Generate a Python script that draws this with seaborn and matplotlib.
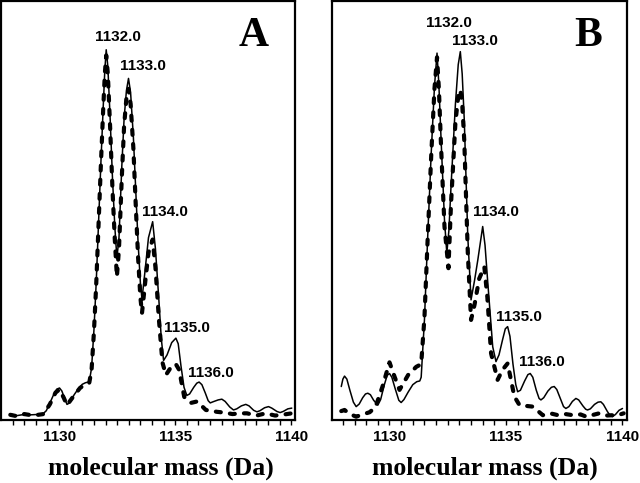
import seaborn as sns
import matplotlib.pyplot as plt
from matplotlib.ticker import MultipleLocator

# panel A - measured (solid) and simulated (dotted) isotope envelope
mass_a_meas = [1127.90, 1128.20, 1128.50, 1128.80, 1129.10, 1129.33, 1129.45, 1129.60, 1129.75, 1129.90,
               1130.02, 1130.12, 1130.24, 1130.34, 1130.46, 1130.65, 1130.85, 1131.00, 1131.13, 1131.30,
               1131.40, 1131.50, 1131.60, 1131.70, 1131.80, 1131.90, 1131.97, 1132.03, 1132.10, 1132.20,
               1132.30, 1132.40, 1132.49, 1132.58, 1132.70, 1132.80, 1132.90, 1132.99, 1133.08, 1133.20,
               1133.30, 1133.40, 1133.50, 1133.57, 1133.70, 1133.85, 1134.03, 1134.15, 1134.30, 1134.40,
               1134.50, 1134.65, 1134.85, 1135.03, 1135.13, 1135.25, 1135.38, 1135.50, 1135.62, 1135.80,
               1135.93, 1136.03, 1136.15, 1136.30, 1136.42, 1136.51, 1136.63, 1136.85, 1137.01, 1137.15,
               1137.35, 1137.51, 1137.65, 1137.85, 1138.04, 1138.18, 1138.38, 1138.52, 1138.65, 1138.85,
               1139.02, 1139.16, 1139.38, 1139.52, 1139.65, 1139.85, 1140.02]
int_a_meas = [1.6, 1.2, 1.5, 1.4, 1.5, 1.8, 2.5, 4.5, 6.6, 8.3,
              8.6, 7.8, 5.8, 4.2, 4.6, 6.8, 8.6, 9.6, 10.0, 10.3,
              14.0, 24.0, 37.0, 53.0, 69.0, 84.0, 94.0, 99.5, 95.0, 81.0,
              65.0, 52.0, 43.5, 49.0, 68.0, 81.0, 88.5, 91.8, 88.0, 76.0,
              62.0, 48.0, 37.0, 32.5, 40.0, 49.0, 53.3, 46.0, 32.0, 22.0,
              16.0, 17.5, 20.8, 22.0, 20.5, 14.5, 8.8, 6.6, 7.0, 8.8,
              9.9, 10.2, 9.5, 7.2, 5.2, 4.6, 4.9, 5.4, 5.6, 5.0,
              3.5, 2.7, 3.0, 3.8, 4.2, 3.8, 2.6, 2.2, 2.5, 3.3,
              3.6, 3.2, 2.3, 2.0, 2.3, 3.0, 3.2]

mass_a_sim = [1127.90, 1128.20, 1128.50, 1128.80, 1129.10, 1129.33, 1129.60, 1129.85, 1130.02, 1130.20,
              1130.34, 1130.60, 1130.90, 1131.13, 1131.30, 1131.40, 1131.50, 1131.60, 1131.70, 1131.80,
              1131.90, 1131.97, 1132.03, 1132.10, 1132.20, 1132.30, 1132.40, 1132.49, 1132.58, 1132.70,
              1132.80, 1132.90, 1132.99, 1133.08, 1133.20, 1133.30, 1133.40, 1133.50, 1133.57, 1133.70,
              1133.85, 1134.03, 1134.15, 1134.30, 1134.45, 1134.60, 1134.85, 1135.03, 1135.17, 1135.39,
              1135.68, 1135.95, 1136.32, 1136.80, 1137.10, 1137.47, 1137.80, 1138.09, 1138.50, 1138.90,
              1139.30, 1139.60, 1140.02]
int_a_sim = [1.4, 1.0, 1.6, 1.3, 1.4, 1.6, 4.2, 7.4, 8.2, 6.0,
             4.0, 6.2, 8.6, 9.6, 10.0, 13.5, 23.5, 36.5, 52.5, 68.5,
             83.5, 93.0, 98.0, 93.0, 78.5, 62.0, 48.5, 38.5, 46.0, 65.0,
             79.0, 86.5, 89.0, 85.0, 73.0, 58.0, 44.0, 33.0, 28.7, 36.5,
             45.0, 48.5, 41.0, 27.0, 15.5, 12.1, 14.5, 15.0, 13.5, 6.2,
             4.6, 5.0, 2.7, 2.2, 2.0, 1.6, 1.8, 1.8, 1.2, 1.8,
             1.2, 1.4, 1.8]

# panel B
mass_b_meas = [1127.93, 1128.00, 1128.07, 1128.17, 1128.30, 1128.45, 1128.57, 1128.70, 1128.85, 1128.97,
               1129.07, 1129.18, 1129.32, 1129.50, 1129.62, 1129.78, 1129.90, 1130.00, 1130.10, 1130.25,
               1130.40, 1130.50, 1130.62, 1130.80, 1131.00, 1131.17, 1131.30, 1131.36, 1131.50, 1131.64,
               1131.79, 1131.93, 1132.04, 1132.12, 1132.21, 1132.36, 1132.46, 1132.55, 1132.64, 1132.83,
               1132.95, 1133.04, 1133.12, 1133.21, 1133.36, 1133.50, 1133.65, 1133.79, 1134.00, 1134.10,
               1134.21, 1134.43, 1134.57, 1134.70, 1134.85, 1134.97, 1135.07, 1135.17, 1135.30, 1135.42,
               1135.50, 1135.62, 1135.80, 1135.94, 1136.04, 1136.15, 1136.30, 1136.42, 1136.50, 1136.62,
               1136.80, 1136.95, 1137.07, 1137.18, 1137.35, 1137.47, 1137.57, 1137.70, 1137.85, 1138.00,
               1138.12, 1138.30, 1138.42, 1138.50, 1138.62, 1138.80, 1138.95, 1139.07, 1139.18, 1139.35,
               1139.47, 1139.57, 1139.70, 1139.85, 1140.00]
int_b_meas = [9.0, 11.0, 11.8, 11.0, 8.0, 4.8, 3.6, 4.3, 6.0, 7.0,
              7.2, 6.8, 5.3, 4.0, 5.5, 9.5, 12.0, 12.5, 11.5, 8.3,
              5.3, 4.7, 5.5, 7.5, 9.5, 10.3, 10.5, 11.5, 26.9, 49.3,
              71.7, 89.6, 98.6, 90.0, 76.0, 53.8, 44.8, 51.0, 62.7, 85.0,
              95.5, 99.0, 93.0, 80.6, 49.3, 32.3, 37.5, 43.0, 52.0, 47.0,
              37.6, 19.7, 15.7, 17.5, 21.5, 24.5, 25.1, 22.5, 15.0, 9.5,
              7.6, 8.0, 10.5, 12.2, 12.5, 11.5, 8.0, 5.8, 5.4, 6.0,
              7.8, 8.8, 9.0, 8.2, 5.5, 3.6, 3.1, 3.6, 5.0, 5.8,
              5.4, 3.8, 2.9, 2.7, 3.0, 4.2, 4.8, 4.9, 4.2, 2.3,
              1.2, 0.9, 1.5, 2.6, 3.1]

mass_b_sim = [1127.93, 1128.07, 1128.30, 1128.57, 1128.85, 1129.15, 1129.40, 1129.70, 1130.00, 1130.22,
              1130.43, 1130.80, 1131.15, 1131.36, 1131.50, 1131.64, 1131.79, 1131.93, 1132.04, 1132.12,
              1132.21, 1132.36, 1132.53, 1132.64, 1132.83, 1132.95, 1133.04, 1133.12, 1133.21, 1133.36,
              1133.50, 1133.65, 1133.85, 1134.07, 1134.20, 1134.36, 1134.64, 1134.85, 1135.07, 1135.36,
              1135.58, 1135.85, 1136.15, 1136.58, 1136.90, 1137.23, 1137.55, 1137.87, 1138.20, 1138.45,
              1138.75, 1139.00, 1139.30, 1139.59, 1139.90, 1140.05]
int_b_sim = [2.4, 2.7, 1.6, 0.9, 1.5, 2.1, 3.5, 9.0, 15.5, 11.6,
             8.1, 12.1, 14.3, 15.0, 27.5, 49.0, 71.0, 89.0, 97.5, 89.0,
             74.0, 52.0, 40.8, 58.0, 80.0, 87.0, 88.7, 85.0, 75.0, 45.0,
             26.9, 31.0, 38.0, 41.2, 33.0, 17.9, 10.8, 13.5, 15.2, 6.3,
             4.0, 3.8, 3.6, 1.3, 1.8, 1.3, 1.6, 1.3, 1.5, 0.9,
             1.4, 1.8, 1.2, 1.3, 1.5, 1.8]

peak_labels = ["1132.0", "1133.0", "1134.0", "1135.0", "1136.0"]
label_pos_a = [(1132.55, 103.0), (1133.62, 95.2), (1134.57, 55.9), (1135.52, 24.7), (1136.55, 12.6)]
label_pos_b = [(1132.56, 106.7), (1133.65, 101.9), (1134.55, 55.9), (1135.54, 27.7), (1136.53, 15.6)]

sns.set_style("white")
plt.rcParams['font.family'] = ['Liberation Sans', 'DejaVu Sans']
plt.rcParams['font.weight'] = 'bold'
plt.rcParams['text.color'] = 'black'
plt.rcParams['xtick.color'] = 'black'
plt.rcParams['axes.labelcolor'] = 'black'

fig = plt.figure(figsize=(6.4, 4.83), dpi=100)
ax_a = fig.add_axes([0.0023, 0.1304, 0.4594, 0.8675])
ax_b = fig.add_axes([0.5183, 0.1304, 0.4609, 0.8675])

panels = [
    (ax_a, mass_a_meas, int_a_meas, mass_a_sim, int_a_sim, label_pos_a, "A", 0.859, 0.541),
    (ax_b, mass_b_meas, int_b_meas, mass_b_sim, int_b_sim, label_pos_b, "B", 0.869, 0.52),
]

for ax, xm, ym, xs, ys, lpos, letter, lx, xl in panels:
    sns.lineplot(x=xs, y=ys, ax=ax, color="black", linewidth=3.0,
                 linestyle=(0, (1.2, 2.2)), dash_capstyle="round", estimator=None)
    sns.lineplot(x=xm, y=ym, ax=ax, color="black", linewidth=1.1, estimator=None)

    for txt, (px, py) in zip(peak_labels, lpos):
        ax.text(px, py, txt, ha="center", va="center", fontsize=11, fontweight="bold")

    ax.text(lx, 0.916, letter, transform=ax.transAxes, ha="center", va="center",
            fontsize=30, fontweight="bold", family="Liberation Serif")

    ax.set_xlim(1127.52, 1140.18)
    ax.set_ylim(0, 112.6)
    ax.set_yticks([])
    ax.xaxis.set_major_locator(MultipleLocator(5))
    ax.xaxis.set_minor_locator(MultipleLocator(0.5))
    ax.tick_params(axis="x", which="both", direction="out", length=3.5, width=1,
                   bottom=True, color="black", pad=4)
    ax.tick_params(axis="x", which="major", labelsize=11)
    for sp in ax.spines.values():
        sp.set_color("black")
        sp.set_linewidth(1.6)
    ax.set_xlabel("molecular mass (Da)", fontsize=18.5, fontweight="bold",
                  family="Liberation Serif")
    ax.xaxis.set_label_coords(xl, -0.088)
    ax.set_ylabel("")

fig.savefig("out.png", dpi=100)
